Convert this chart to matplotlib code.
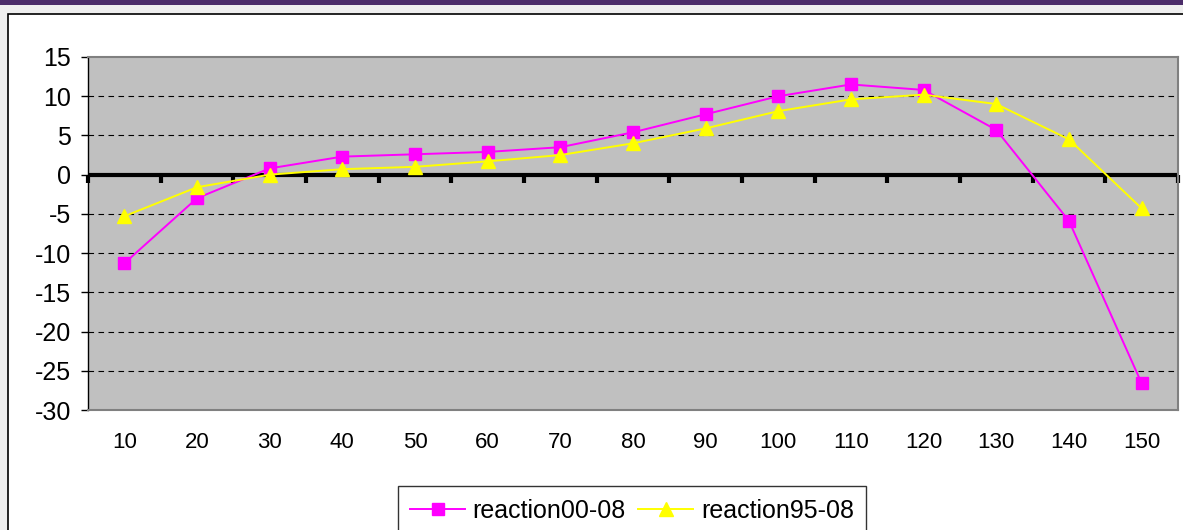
import numpy as np
import matplotlib.pyplot as plt
from matplotlib.patches import Rectangle

plt.rcParams['font.family'] = ['Liberation Sans', 'DejaVu Sans']
plt.rcParams['axes.unicode_minus'] = False

# data
categories = [10, 20, 30, 40, 50, 60, 70, 80, 90, 100, 110, 120, 130, 140, 150]
reaction00_08 = [-11.3, -3.0, 0.8, 2.3, 2.6, 2.9, 3.5, 5.4, 7.7, 10.0, 11.5, 10.8, 5.7, -5.9, -26.6]
reaction95_08 = [-5.3, -1.6, 0.0, 0.7, 1.0, 1.7, 2.5, 4.0, 5.9, 8.1, 9.6, 10.2, 9.0, 4.5, -4.3]
y_ticks = [15, 10, 5, 0, -5, -10, -15, -20, -25, -30]

W, H = 1183, 530
fig = plt.figure(figsize=(W / 100, H / 100), dpi=100)
fig.patch.set_facecolor('#EEEEEE')

# purple strip at the top and the white chart frame
fig.patches.append(Rectangle((0, 1 - 5 / H), 1, 5 / H, transform=fig.transFigure,
                             facecolor='#4B2C69', edgecolor='none', zorder=-2))
fig.patches.append(Rectangle((8 / W, -0.1), 1.1, 1.1 - 14 / H, transform=fig.transFigure,
                             facecolor='white', edgecolor='black', linewidth=1.2, zorder=-2))

ax = fig.add_axes([88 / W, 1 - 410 / H, 1090 / W, 353 / H])
ax.set_zorder(1)
ax.set_facecolor('#C0C0C0')

x = np.arange(len(categories))
ax.set_xlim(-0.5, len(categories) - 0.5)
ax.set_ylim(-30, 15)

# dashed gridlines
for v in y_ticks:
    if v not in (0, 15, -30):
        ax.axhline(v, color='black', linestyle=(0, (5, 4)), linewidth=0.8, zorder=1)

# category axis along y = 0 with ticks between categories
ax.axhline(0, color='black', linewidth=3, zorder=2)
bounds = np.arange(len(categories) + 1) - 0.5
ax.plot(bounds, np.zeros_like(bounds), linestyle='none', marker=3, markersize=6,
        markeredgewidth=3, color='black', zorder=2, clip_on=False)

ax.plot(x, reaction00_08, color='#FF00FF', linewidth=1.4, marker='s', markersize=8.5,
        label='reaction00-08', zorder=3, clip_on=False)
ax.plot(x, reaction95_08, color='#FFFF00', linewidth=1.4, marker='^', markersize=10.5,
        label='reaction95-08', zorder=3, clip_on=False)

ax.set_xticks(x)
ax.set_xticklabels([str(c) for c in categories])
ax.tick_params(axis='x', length=0, pad=16, labelsize=16)
ax.set_yticks(y_ticks)
ax.tick_params(axis='y', direction='out', length=5, width=1, pad=7, labelsize=18)

for side in ('top', 'right', 'bottom'):
    ax.spines[side].set_color('#808080')
    ax.spines[side].set_linewidth(1.5)
ax.spines['left'].set_color('black')
ax.spines['left'].set_linewidth(1)

leg = fig.legend(loc='upper center', bbox_to_anchor=(632 / W, 1 - 486 / H), ncol=2,
                 fontsize=18, frameon=True, fancybox=False, edgecolor='black',
                 handlelength=2.2, columnspacing=0.5, handletextpad=0.3,
                 borderpad=0.5, borderaxespad=0)
leg.get_frame().set_linewidth(1)

fig.savefig('out.png', dpi=100, facecolor=fig.get_facecolor())
